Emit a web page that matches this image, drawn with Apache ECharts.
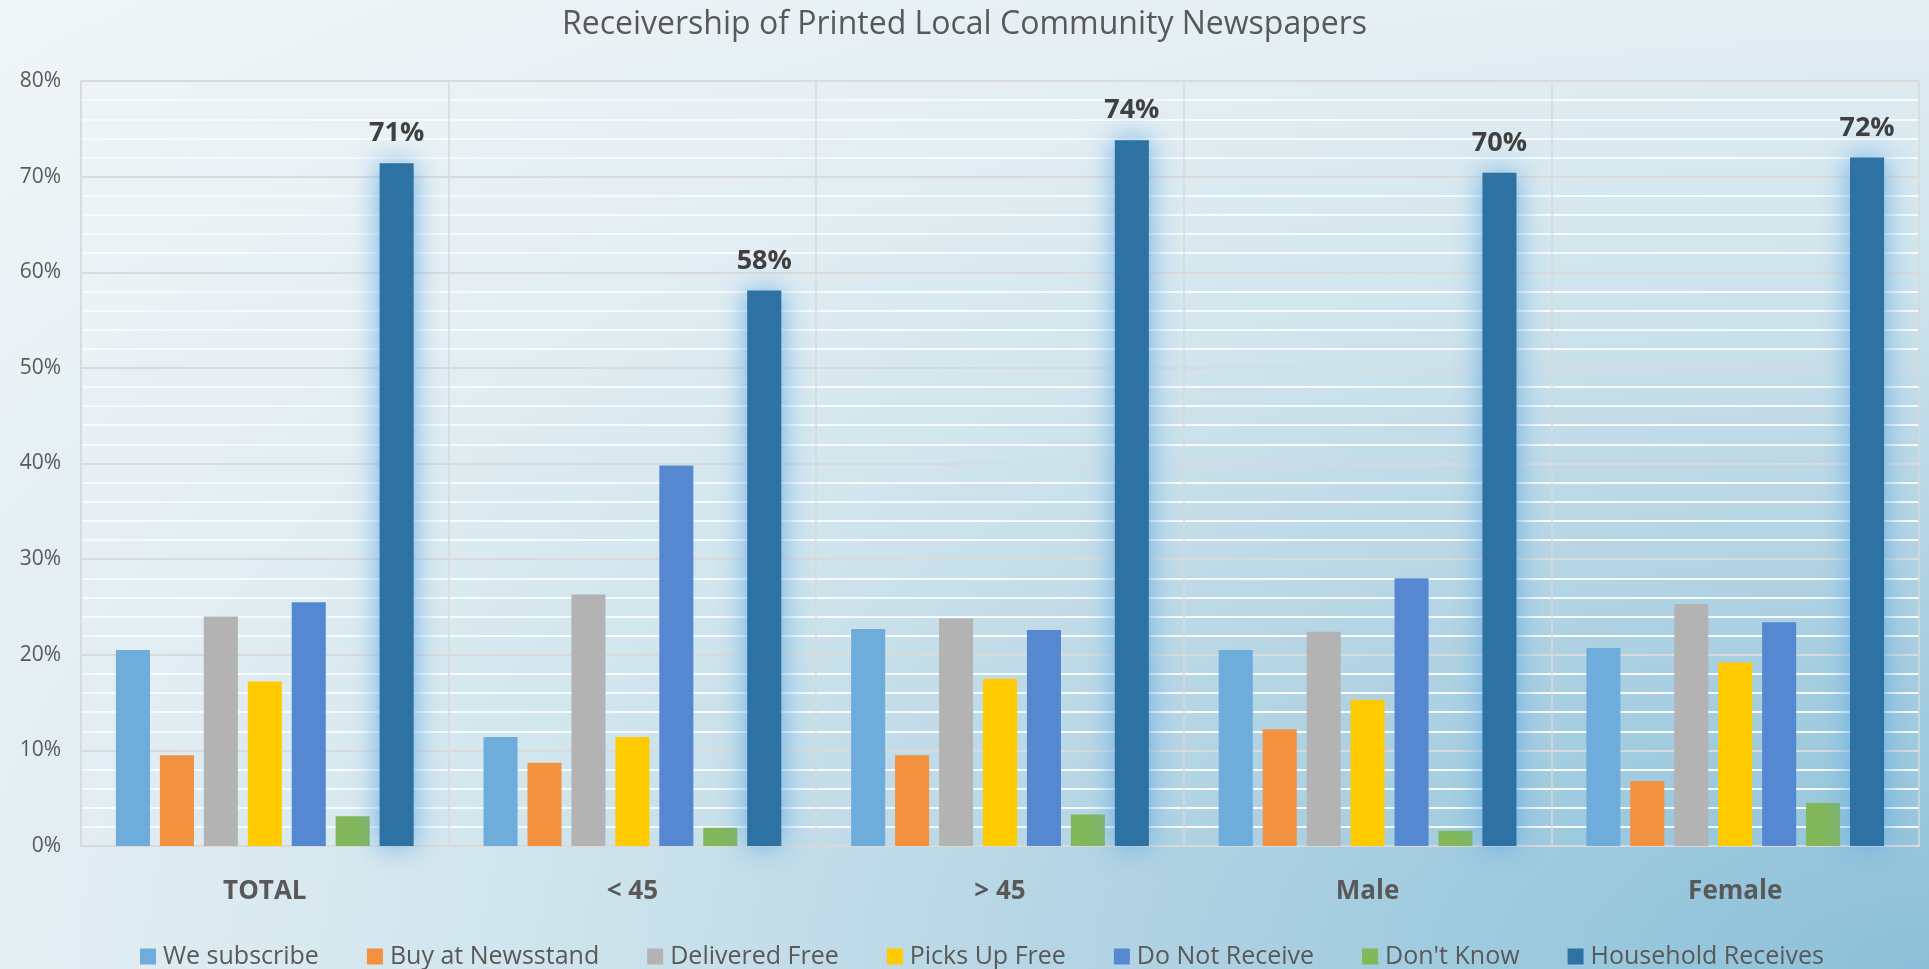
<!DOCTYPE html>
<html>
<head>
<meta charset="utf-8">
<script src="https://cdn.jsdelivr.net/npm/echarts@6/dist/echarts.min.js"></script>
<style>
html,body{margin:0;padding:0;width:1929px;height:969px;overflow:hidden;}
#c{width:1929px;height:969px;
  background: radial-gradient(ellipse farthest-corner at 100% 100%, #8cc0d8 0%, #a0cbdf 18%, #b9d7e5 35%, #d0e5ed 52%, #e3eef3 70%, #f1f6f7 100%);}
</style>
</head>
<body>
<div id="c"></div>
<script>
const titleText = 'Receivership of Printed Local Community Newspapers';
const categories = ['TOTAL', '< 45', '> 45', 'Male', 'Female'];
const seriesNames = ['We subscribe', 'Buy at Newsstand', 'Delivered Free', 'Picks Up Free', 'Do Not Receive', "Don't Know", 'Household Receives'];
const weSubscribe = [20.5, 11.4, 22.7, 20.5, 20.7];
const buyAtNewsstand = [9.5, 8.7, 9.5, 12.2, 6.8];
const deliveredFree = [24.0, 26.3, 23.8, 22.4, 25.3];
const picksUpFree = [17.2, 11.4, 17.5, 15.3, 19.2];
const doNotReceive = [25.5, 39.8, 22.6, 28.0, 23.4];
const dontKnow = [3.1, 1.9, 3.3, 1.6, 4.5];
const householdReceives = [71.4, 58.1, 73.8, 70.4, 72.0];
const yTicks = [0, 10, 20, 30, 40, 50, 60, 70, 80];

const seriesData = [weSubscribe, buyAtNewsstand, deliveredFree, picksUpFree, doNotReceive, dontKnow, householdReceives];
const colors = ['#6eacdc', '#f29140', '#b3b3b3', '#ffcb00', '#5588d0', '#82b75a', '#2e71a3'];

const chart = echarts.init(document.getElementById('c'), null, {renderer: 'canvas'});
const FONT = 'Open Sans';

const series = seriesData.map((d, i) => {
  const s = {
    name: seriesNames[i],
    type: 'bar',
    data: d,
    barGap: '29%',
    barCategoryGap: '19%',
    itemStyle: {color: colors[i]}
  };
  if (i === seriesData.length - 1) {
    s.itemStyle = {
      color: colors[i],
      shadowBlur: 28,
      shadowColor: 'rgba(100,170,225,0.95)'
    };
    s.label = {
      show: true,
      position: 'top',
      distance: 16,
      formatter: p => Math.round(p.value) + '%',
      fontFamily: FONT,
      fontWeight: 'bold',
      fontSize: 27,
      color: '#404040'
    };
  }
  return s;
});

chart.setOption({
  backgroundColor: 'transparent',
  color: colors,
  animation: false,
  title: {
    text: titleText,
    left: 'center',
    top: 4,
    textStyle: {fontFamily: FONT, fontWeight: 'normal', fontSize: 32, color: '#595959'}
  },
  legend: {
    data: seriesNames,
    left: 140,
    top: 944,
    padding: 0,
    itemWidth: 16,
    itemHeight: 16,
    itemGap: 48,
    icon: 'rect',
    textStyle: {fontFamily: FONT, fontSize: 25, color: '#595959', padding: [0, 0, 0, 2]}
  },
  grid: {left: 81, right: 10, top: 81, bottom: 123, containLabel: false},
  xAxis: {
    type: 'category',
    data: categories,
    axisLine: {show: true, lineStyle: {color: '#d9d9d9', width: 2}},
    axisTick: {show: false},
    splitLine: {show: true, lineStyle: {color: '#d9d9d9', width: 1.5}},
    axisLabel: {margin: 33, fontFamily: FONT, fontWeight: 'bold', fontSize: 26, color: '#595959'}
  },
  yAxis: {
    type: 'value',
    min: 0,
    max: 80,
    interval: 10,
    axisLine: {show: true, lineStyle: {color: '#d9d9d9', width: 1.5}},
    axisTick: {show: false},
    axisLabel: {
      margin: 20,
      fontFamily: FONT,
      fontSize: 21,
      color: '#595959',
      formatter: v => yTicks.includes(v) ? v + '%' : ''
    },
    splitLine: {show: true, lineStyle: {color: '#dadada', width: 2}},
    minorTick: {show: false, splitNumber: 5},
    minorSplitLine: {show: true, lineStyle: {color: '#f7fafb', width: 2}}
  },
  series: series
});
</script>
</body>
</html>
